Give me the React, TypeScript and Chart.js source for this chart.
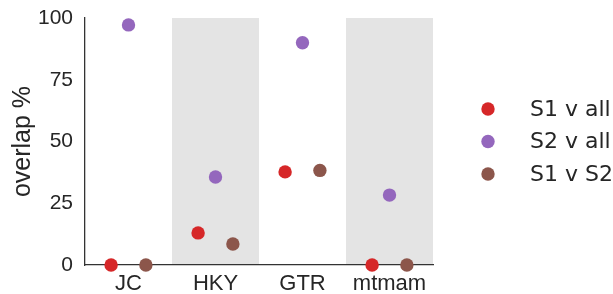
import React, { useEffect, useRef } from "react";
import { Chart, registerables } from "chart.js";

Chart.register(...registerables);

const categories = ["JC", "HKY", "GTR", "mtmam"];
const seriesNames = ["S1 v all", "S2 v all", "S1 v S2"];
const s1VsAll = [0, 13, 37.7, 0];
const s2VsAll = [97.2, 35.6, 90, 28.3];
const s1VsS2 = [0, 8.5, 38.3, 0];
const yTicks = [0, 25, 50, 75, 100];

const seriesValues = [s1VsAll, s2VsAll, s1VsS2];
const colors = ["#d62728", "#9467bd", "#8c564b"];
const dodge = [-0.2, 0, 0.2];

const bandPlugin = {
  id: "bands",
  beforeDraw(chart: any) {
    const { ctx, chartArea, scales } = chart;
    const x = scales.x;
    ctx.save();
    ctx.fillStyle = "#e4e4e4";
    categories.forEach((_, i) => {
      if (i % 2 === 1) {
        const l = x.getPixelForValue(i - 0.5);
        const r = x.getPixelForValue(i + 0.5);
        ctx.fillRect(l, chartArea.top, r - l, chartArea.bottom - chartArea.top);
      }
    });
    ctx.restore();
  },
};

const legendPlugin = {
  id: "customLegend",
  afterDraw(chart: any) {
    const { ctx, chartArea } = chart;
    ctx.save();
    const cx = chartArea.right + 55;
    const tx = chartArea.right + 97;
    const y0 = 109;
    const gap = 32.5;
    ctx.font = '22px "DejaVu Sans"';
    ctx.textBaseline = "middle";
    ctx.textAlign = "left";
    chart.data.datasets.forEach((ds: any, i: number) => {
      const y = y0 + i * gap;
      ctx.beginPath();
      ctx.arc(cx, y, 6.7, 0, Math.PI * 2);
      ctx.fillStyle = ds.backgroundColor;
      ctx.fill();
      ctx.fillStyle = "#262626";
      ctx.fillText(ds.label, tx, y + 1);
    });
    ctx.restore();
  },
};

export default function App() {
  const ref = useRef<HTMLCanvasElement | null>(null);
  useEffect(() => {
    document.body.style.margin = "0";
    const canvas = ref.current!;
    const chart = new Chart(canvas, {
      type: "scatter",
      data: {
        datasets: seriesValues.map((vals, si) => ({
          label: seriesNames[si],
          data: vals.map((v, i) => ({ x: i + dodge[si], y: v })),
          backgroundColor: colors[si],
          borderColor: colors[si],
          borderWidth: 0,
          pointRadius: 6.7,
          pointHoverRadius: 6.7,
          clip: false as any,
        })),
      },
      options: {
        animation: false,
        responsive: false,
        maintainAspectRatio: false,
        layout: { padding: { top: 18, right: 180, left: 0, bottom: 0 } },
        plugins: { legend: { display: false }, tooltip: { enabled: false } },
        scales: {
          x: {
            type: "linear",
            min: -0.5,
            max: categories.length - 0.5,
            grid: { display: false, drawTicks: false },
            border: { display: true, color: "#333333", width: 1.3 },
            afterBuildTicks: (scale: any) => {
              scale.ticks = categories.map((_, i) => ({ value: i }));
            },
            afterFit: (scale: any) => {
              scale.height = 29;
              scale.paddingLeft = 0;
              scale.paddingRight = 0;
            },
            ticks: {
              padding: 6,
              color: "#262626",
              font: { family: '"Liberation Sans", Arial', size: 22 },
              callback: (v: any) => categories[Math.round(Number(v))] ?? "",
              maxRotation: 0,
              autoSkip: false,
            },
          },
          y: {
            min: 0,
            max: 100,
            grid: { display: false, drawTicks: false },
            border: { display: true, color: "#333333", width: 1.3 },
            afterBuildTicks: (scale: any) => {
              scale.ticks = yTicks.map((v) => ({ value: v }));
            },
            afterFit: (scale: any) => {
              scale.width = 85;
              scale.paddingTop = 0;
              scale.paddingBottom = 0;
            },
            title: {
              display: true,
              text: "overlap %",
              color: "#262626",
              font: { family: '"Liberation Sans", Arial', size: 25 },
              padding: { top: 8, bottom: 0 },
            },
            ticks: {
              padding: 12,
              color: "#262626",
              font: { family: '"Liberation Sans", Arial', size: 21 },
            },
          },
        },
      },
      plugins: [bandPlugin, legendPlugin],
    });
    return () => chart.destroy();
  }, []);
  return (
    <div style={{ width: 613, height: 294 }}>
      <canvas ref={ref} width={613} height={294} style={{ display: "block" }} />
    </div>
  );
}
